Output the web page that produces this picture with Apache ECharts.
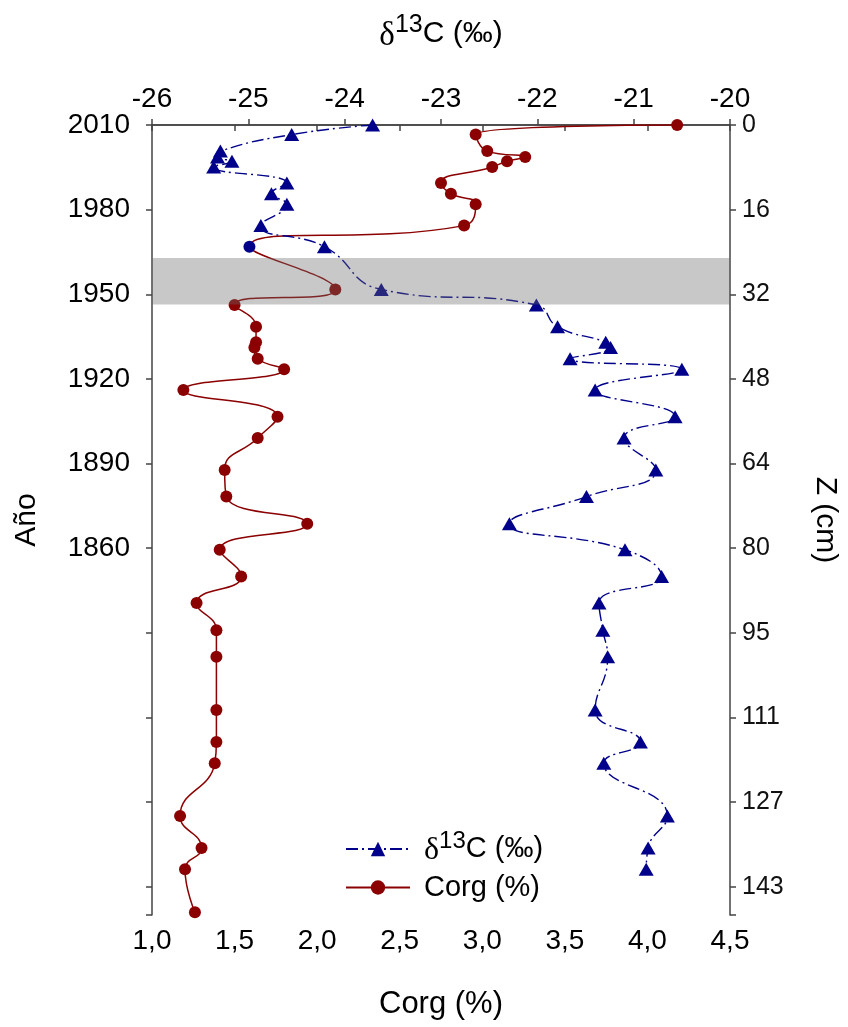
<!DOCTYPE html>
<html>
<head>
<meta charset="utf-8">
<script src="https://cdn.jsdelivr.net/npm/echarts@6/dist/echarts.min.js"></script>
<style>
  html, body { margin: 0; padding: 0; background: #fff; }
  #chart { width: 848px; height: 1027px; }
</style>
</head>
<body>
<div id="chart"></div>
<script>
// depth of each sample (cm), shared by both profiles
var depth = [0, 1.8, 4.9, 6.0, 6.8, 7.9, 10.9, 12.9, 14.9, 18.9, 22.85, 30.9, 33.8, 37.9,
  40.8, 41.8, 43.9, 45.9, 49.8, 54.8, 58.8, 64.8, 69.8, 74.9, 79.8, 84.8, 89.8, 94.9,
  99.9, 109.9, 115.9, 119.9, 129.8, 135.8, 139.8, 147.9];

var corg = [4.18, 2.96, 3.03, 3.26, 3.15, 3.06, 2.75, 2.81, 2.96, 2.89, 1.59, 2.11, 1.50, 1.63,
  1.63, 1.62, 1.64, 1.80, 1.19, 1.76, 1.64, 1.44, 1.45, 1.94, 1.41, 1.54, 1.27, 1.39,
  1.39, 1.39, 1.39, 1.38, 1.17, 1.30, 1.20, 1.26];

var d13c = [-23.71, -24.55, -25.29, -25.32, -25.17, -25.36, -24.60, -24.76, -24.60, -24.87,
  -24.21, -23.62, -22.01, -21.79, -21.29, -21.24, -21.66, -20.50, -21.40, -20.57, -21.10,
  -20.77, -21.49, -22.29, -21.09, -20.71, -21.36, -21.32, -21.27, -21.40, -20.93, -21.31,
  -20.65, -20.85, -20.87, null];

// axis tick labels (one per depth step of 15.9 cm)
var yearLabels = ['2010', '1980', '1950', '1920', '1890', '1860', '', '', '', ''];
var depthLabels = ['0', '16', '32', '48', '64', '80', '95', '111', '127', '143'];
var depthStep = 15.9;
var depthMax = 148.4;

// shaded interval (cm)
var band = [25.0, 33.7];
var markedSample = 10; // sample drawn in blue in the Corg profile

var RED = '#8B0000';
var BLUE = '#00008B';
var FONT = 'Liberation Sans, Arial, sans-serif';

function tickLabel(list) {
  return function (v) {
    var i = Math.round(v / depthStep);
    if (Math.abs(v - i * depthStep) > 0.05) return '';
    return list[i] || '';
  };
}

var corgData = depth.map(function (z, i) {
  var item = { value: [corg[i], z] };
  if (i === markedSample) item.itemStyle = { color: BLUE };
  return item;
});
var d13cData = [];
depth.forEach(function (z, i) {
  if (d13c[i] != null) d13cData.push([d13c[i], z]);
});

function d13cRich(size, pad) {
  return {
    g: { fontFamily: 'Liberation Serif, serif', fontSize: size + 3, color: '#000', padding: [4, 0, 0, pad] },
    sup: { fontFamily: FONT, fontSize: Math.round(size * 0.82), color: '#000', verticalAlign: 'top', padding: [0, 0, Math.round(size * 0.55), 0] },
    n: { fontFamily: FONT, fontSize: size, color: '#000' },
    c: { fontFamily: FONT, fontSize: size, color: '#000', padding: [0, 0, 0, pad] }
  };
}

var chart = echarts.init(document.getElementById('chart'));

var option = {
  backgroundColor: '#ffffff',
  animation: false,
  grid: { left: 152, right: 110, top: 125, bottom: 112 },
  legend: {
    orient: 'vertical',
    left: 340,
    top: 824,
    itemWidth: 64,
    itemHeight: 18,
    itemGap: 6,
    data: ['d13c', 'corg'],
    formatter: function (name) {
      return name === 'd13c' ? '{g|δ}{sup|13}{n|C (‰)}' : '{c|Corg (%)}';
    },
    textStyle: { rich: d13cRich(29, 9) }
  },
  xAxis: [{
    type: 'value',
    position: 'bottom',
    min: 1, max: 4.5, interval: 0.5,
    name: 'Corg (%)',
    nameLocation: 'middle',
    nameGap: 74,
    nameTextStyle: { fontFamily: FONT, fontSize: 31, color: '#000' },
    axisLine: { lineStyle: { color: '#444', width: 1.5 } },
    axisTick: { inside: false, length: 6, lineStyle: { color: '#444', width: 1.5 } },
    axisLabel: {
      margin: 12, fontFamily: FONT, fontSize: 28, color: '#000',
      formatter: function (v) { return v.toFixed(1).replace('.', ','); }
    },
    splitLine: { show: false }
  }, {
    type: 'value',
    position: 'top',
    min: -26, max: -20, interval: 1,
    name: '{g|δ}{sup|13}{n|C (‰)}',
    nameLocation: 'middle',
    nameGap: 70,
    nameTextStyle: { rich: d13cRich(30, 0) },
    axisLine: { lineStyle: { color: '#444', width: 1.5 } },
    axisTick: { inside: false, length: 6, lineStyle: { color: '#444', width: 1.5 } },
    axisLabel: { margin: 12, fontFamily: FONT, fontSize: 28, color: '#000' },
    splitLine: { show: false }
  }],
  yAxis: [{
    type: 'value',
    position: 'left',
    inverse: true,
    min: 0, max: depthMax, interval: depthStep,
    name: 'Año',
    nameLocation: 'middle',
    nameRotate: 90,
    nameGap: 110,
    nameTextStyle: { fontFamily: FONT, fontSize: 30, color: '#000' },
    axisLine: { lineStyle: { color: '#444', width: 1.5 } },
    axisTick: { inside: false, length: 6, lineStyle: { color: '#444', width: 1.5 } },
    axisLabel: { margin: 22, fontFamily: FONT, fontSize: 28, color: '#000', formatter: tickLabel(yearLabels) },
    splitLine: { show: false }
  }, {
    type: 'value',
    position: 'right',
    inverse: true,
    min: 0, max: depthMax, interval: depthStep,
    name: 'Z (cm)',
    nameLocation: 'middle',
    nameRotate: -90,
    nameGap: 80,
    nameTextStyle: { fontFamily: FONT, fontSize: 30, color: '#000' },
    axisLine: { lineStyle: { color: '#444', width: 1.5 } },
    axisTick: { inside: false, length: 6, lineStyle: { color: '#444', width: 1.5 } },
    axisLabel: { margin: 12, fontFamily: FONT, fontSize: 25, color: '#111', formatter: tickLabel(depthLabels) },
    splitLine: { show: false }
  }],
  series: [{
    name: 'corg',
    type: 'line',
    xAxisIndex: 0,
    yAxisIndex: 0,
    data: corgData,
    smooth: 0.5,
    clip: false,
    symbol: 'circle',
    symbolSize: 12,
    itemStyle: { color: RED },
    lineStyle: { color: RED, width: 1.5 },
    z: 3
  }, {
    name: 'd13c',
    type: 'line',
    xAxisIndex: 1,
    yAxisIndex: 0,
    data: d13cData,
    smooth: 0.5,
    clip: false,
    symbol: 'triangle',
    symbolSize: [15, 13],
    itemStyle: { color: BLUE },
    lineStyle: { color: BLUE, width: 1.4, type: [12, 4, 2, 4] },
    z: 3
  }, {
    name: 'band',
    type: 'line',
    xAxisIndex: 0,
    yAxisIndex: 0,
    data: [],
    silent: true,
    z: 10,
    markArea: {
      silent: true,
      z: 10,
      itemStyle: { color: 'rgba(107,107,107,0.37)' },
      data: [[{ yAxis: band[0] }, { yAxis: band[1] }]]
    }
  }]
};

chart.setOption(option);
</script>
</body>
</html>
